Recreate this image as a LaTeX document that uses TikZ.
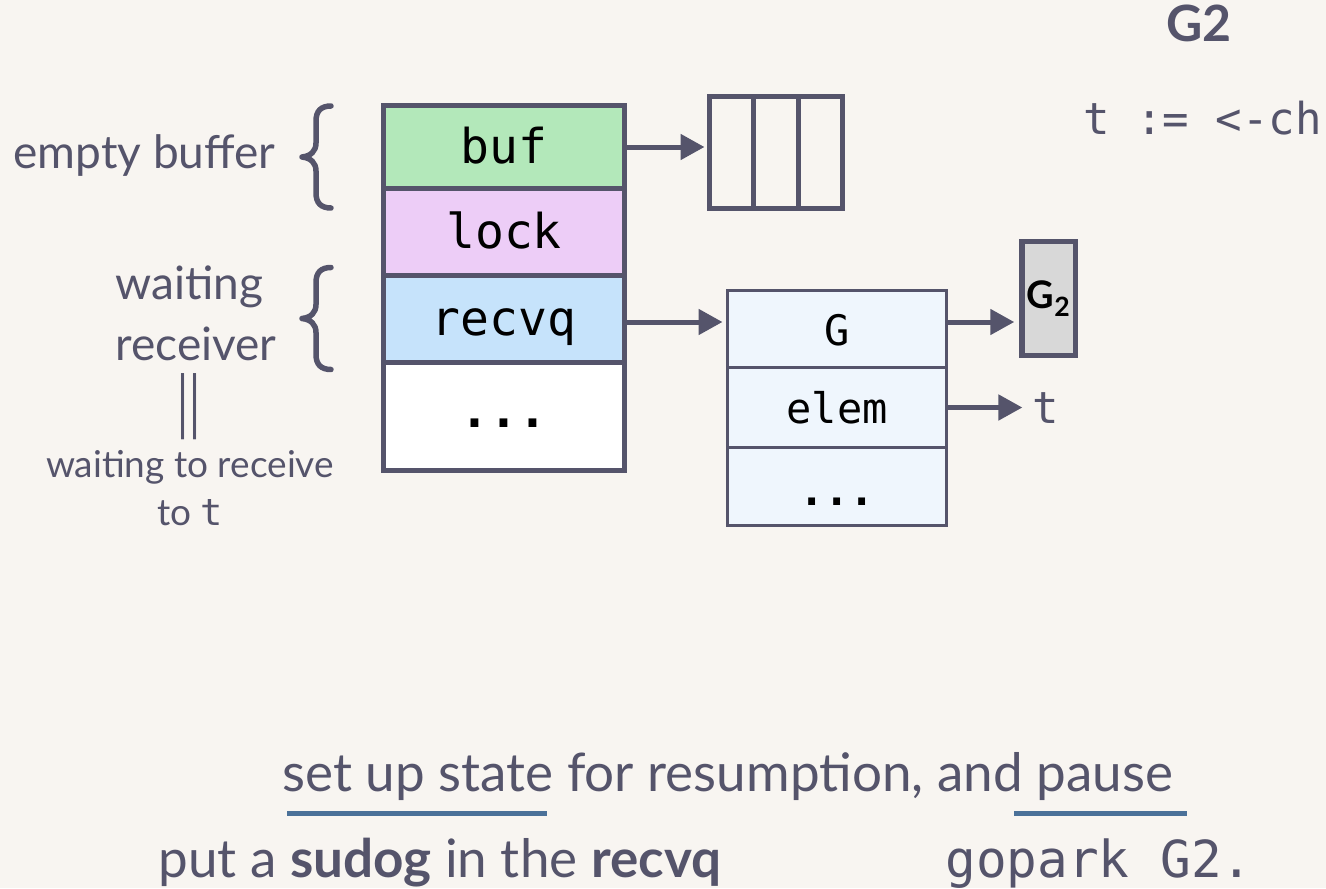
\documentclass[tikz,border=0pt]{standalone}
\usepackage{fontspec}
\setmainfont{Lato}
\newfontfamily\codefont{DejaVu Sans Mono}
\usetikzlibrary{arrows.meta,positioning}

\definecolor{paper}{HTML}{F8F5F1}
\definecolor{ink}{HTML}{55546B}
\definecolor{bufgreen}{HTML}{B3E8BA}
\definecolor{lockpink}{HTML}{EDCDF7}
\definecolor{recvblue}{HTML}{C6E3FB}
\definecolor{sudogblue}{HTML}{EFF6FD}
\definecolor{gboxgray}{HTML}{D8D8D8}
\definecolor{uline}{HTML}{4B7199}

\begin{document}
\begin{tikzpicture}[x=0.5pt,y=-0.5pt,
  chan field/.style={rectangle,draw=ink,line width=2.5pt,minimum width=120.5pt,inner sep=0pt,outer sep=0pt,font=\codefont\fontsize{24}{24}\selectfont,text height=18pt,text depth=2pt},
  sudog field/.style={rectangle,draw=ink,fill=sudogblue,line width=1.5pt,minimum width=109.5pt,inner sep=0pt,outer sep=0pt,font=\codefont\fontsize{21}{21}\selectfont,text height=18pt,text depth=2pt},
  buf cell/.style={rectangle,draw=ink,line width=2.5pt,minimum width=22.2pt,minimum height=56pt,inner sep=0pt,outer sep=0pt},
  side label/.style={text=ink,inner sep=0pt,font=\fontsize{23}{30.5}\selectfont},
  pointer/.style={-{Triangle[length=12pt,width=12.5pt]},color=ink,line width=2.5pt,shorten >=2.5pt},
  brace/.style={draw=ink,line width=2.75pt,line cap=round,line join=round}]

  \fill[paper] (0,0) rectangle (1326,888);
  \useasboundingbox (0,0) rectangle (1326,888);

  % the channel
  \node[chan field,fill=bufgreen,minimum height=41.5pt] (buf) at (504,147) {buf};
  \node[chan field,fill=lockpink,minimum height=43.5pt,below=0pt of buf] (lock) {lock};
  \node[chan field,fill=recvblue,minimum height=43.5pt,below=0pt of lock] (recvq) {recvq};
  \node[chan field,fill=white,minimum height=53.75pt,text height=13pt,below=0pt of recvq] (rest) {\bfseries...};

  % the ring buffer
  \node[buf cell] (cell1) at (731.7,152.5) {};
  \node[buf cell,right=0pt of cell1] (cell2) {};
  \node[buf cell,right=0pt of cell2] (cell3) {};

  % the sudog
  \node[sudog field,minimum height=38.5pt] (G) at (837,329) {G};
  \node[sudog field,minimum height=40pt,below=0pt of G] (elem) {elem};
  \node[sudog field,minimum height=39pt,text height=21pt,below=0pt of elem] (more) {\bfseries...};

  \node[rectangle,draw=ink,fill=gboxgray,line width=2.75pt,minimum width=26.75pt,minimum height=57pt,inner sep=0pt,font=\bfseries\fontsize{19}{19}\selectfont] (g2box) at (1048.75,298.5) {G\textsubscript{2}};
  \node[text=ink,inner sep=0pt,anchor=base,font=\codefont\fontsize{22}{22}\selectfont] (tval) at (1046,423) {t};

  \path[pointer]
    (buf.east) edge (buf.east -| cell1.west)
    ([yshift=-1.5pt]recvq.east) edge ([yshift=-1.5pt]recvq.east -| G.west)
    ([yshift=3.5pt]G.east) edge ([yshift=3.5pt]G.east -| g2box.west)
    (elem.east) edge[shorten >=5pt] (elem.east -| tval.west);

  % labels on the left
  \node[side label,anchor=base west] (empty) at (13,168) {empty buffer};
  \node[side label,anchor=base west,align=left] (waiting) at (115,360) {waiting\\receiver};
  \node[side label,font=\fontsize{22}{22}\selectfont] (same) at (189,407) {\scalebox{1}[1.6]{||}};
  \node[side label,anchor=base,align=center,font=\fontsize{18.5}{24}\selectfont] (meaning) at (190,525) {waiting to receive\\to {\codefont t}};
  \foreach \yc in {157,318.5}
    \draw[brace] (331,\yc-51) .. controls (321,\yc-51) and (316,\yc-46) .. (316,\yc-36)
      -- (316,\yc-14) .. controls (316,\yc-6) and (311,\yc-1) .. (302,\yc)
      .. controls (311,\yc+1) and (316,\yc+6) .. (316,\yc+14)
      -- (316,\yc+36) .. controls (316,\yc+46) and (321,\yc+51) .. (331,\yc+51);

  % goroutine code
  \node[text=ink,inner sep=0pt,anchor=base,font=\bfseries\fontsize{25}{25}\selectfont] (gname) at (1199,42) {G2};
  \node[text=ink,inner sep=0pt,anchor=base west,font=\codefont\fontsize{22}{22}\selectfont] (code) at (1083,134) {t := <-ch};

  % caption
  \node[text=ink,inner sep=0pt,anchor=base west,font=\fontsize{26.5}{26.5}\selectfont] (steps) at (282,791) {set up state for resumption, and pause};
  \draw[uline,line width=2.5pt] (287,813) -- (547,813);
  \draw[uline,line width=2.5pt] (1014,813) -- (1187,813);
  \node[text=ink,inner sep=0pt,anchor=base west,font=\fontsize{26.5}{26.5}\selectfont] (put) at (158,877) {put a \textbf{sudog} in the \textbf{recvq}};
  \node[text=ink,inner sep=0pt,anchor=base west,font=\codefont\fontsize{25.5}{25.5}\selectfont] (park) at (945,877) {gopark G2.};
\end{tikzpicture}
\end{document}
